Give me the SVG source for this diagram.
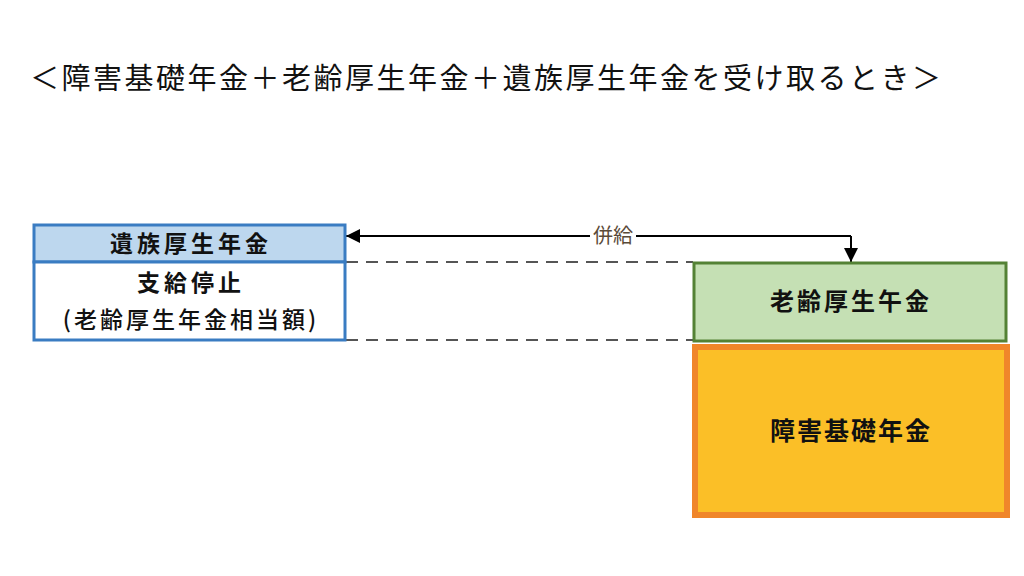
<svg xmlns="http://www.w3.org/2000/svg" width="1024" height="576" viewBox="0 0 1024 576">
<defs>
<style>
.t{font-family:"Noto Sans CJK JP","Noto Sans CJK SC",sans-serif;fill:#111}
.b{font-weight:bold}
.dash{stroke:#555;stroke-width:2;stroke-dasharray:12 8;fill:none}
</style>
<marker id="ah2" viewBox="0 0 10 10" refX="10" refY="5" markerWidth="15" markerHeight="14" markerUnits="userSpaceOnUse" orient="auto">
<path d="M0,0 L10,5 L0,10 z" fill="#000"/>
</marker>
</defs>
<rect width="1024" height="576" fill="#fff"/>
<text class="t" x="30" y="89" font-size="29" letter-spacing="2.5">＜障害基礎年金＋老齢厚生年金＋遺族厚生年金を受け取るとき＞</text>

<g id="connectors">
<line class="dash" x1="346" y1="262" x2="693" y2="262"/>
<line class="dash" x1="346" y1="340" x2="693" y2="340"/>
<polyline points="851,236 346,236" fill="none" stroke="#000" stroke-width="2" marker-end="url(#ah2)"/>
<polyline points="851,236 851,262" fill="none" stroke="#000" stroke-width="2" marker-end="url(#ah2)"/>
<rect x="590" y="226" width="46" height="20" fill="#fff"/>
<text class="t" x="613" y="243" font-size="20" text-anchor="middle" style="fill:#5a4a38">併給</text>
</g>

<g id="izoku">
<rect x="34" y="225" width="311" height="37" fill="#bdd7ee" stroke="#3a7cc2" stroke-width="3"/>
<rect x="34" y="262" width="311" height="78" fill="#fff" stroke="#3a7cc2" stroke-width="3"/>
<text class="t b" x="191" y="252" font-size="23" letter-spacing="4" text-anchor="middle">遺族厚生年金</text>
<text class="t b" x="191" y="291" font-size="23" letter-spacing="4" text-anchor="middle">支給停止</text>
<text class="t" x="191" y="328" font-size="23" letter-spacing="3" text-anchor="middle" style="font-weight:500">(老齢厚生年金相当額)</text>
</g>

<g id="rourei">
<rect x="694" y="263" width="312" height="78" fill="#c5e0b4" stroke="#548235" stroke-width="3"/>
<text class="t b" x="851" y="310" font-size="24" letter-spacing="3" text-anchor="middle">老齢厚生午金</text>
</g>

<g id="shogai">
<rect x="695" y="347" width="312" height="168" fill="#fbbf27" stroke="#f0862a" stroke-width="6"/>
<text class="t b" x="851" y="440" font-size="25" letter-spacing="2" text-anchor="middle">障害基礎年金</text>
</g>
</svg>
